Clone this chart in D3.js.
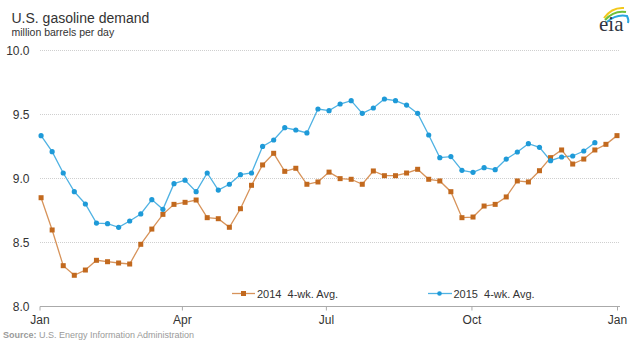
<!DOCTYPE html>
<html>
<head>
<meta charset="utf-8">
<script src="https://cdn.jsdelivr.net/npm/d3@7"></script>
<style>
  html, body { margin: 0; padding: 0; background: #fff; }
  svg { display: block; font-family: "Liberation Sans", Arial, sans-serif; }
</style>
</head>
<body>
<svg id="chart" width="640" height="344"></svg>
<script>
// ---- data ----
const firstWeek = "2014-01-02";
const series2014 = [8.846,8.594,8.315,8.240,8.281,8.357,8.346,8.336,8.328,8.482,
  8.601,8.716,8.794,8.810,8.828,8.690,8.682,8.615,8.760,8.943,
  9.102,9.193,9.052,9.076,8.951,8.969,9.046,8.995,8.990,8.951,
  9.055,9.018,9.018,9.039,9.068,8.990,8.977,8.893,8.690,8.695,
  8.781,8.794,8.852,8.977,8.969,9.057,9.159,9.219,9.109,9.148,
  9.219,9.263,9.331];
const series2015 = [9.331,9.206,9.039,8.893,8.797,8.648,8.643,8.615,8.664,8.719,
  8.831,8.755,8.956,8.983,8.893,9.039,8.906,8.951,9.026,9.039,
  9.247,9.297,9.393,9.375,9.352,9.539,9.526,9.578,9.604,9.505,
  9.547,9.617,9.604,9.570,9.505,9.336,9.159,9.167,9.060,9.044,
  9.081,9.065,9.148,9.203,9.268,9.240,9.135,9.164,9.172,9.211,9.276];
const yTicks = [8.0, 8.5, 9.0, 9.5, 10.0];
const xTickDates = ["2014-01-01","2014-04-01","2014-07-01","2014-10-01","2015-01-01"];
const xTickLabels = ["Jan","Apr","Jul","Oct","Jan"];
const legendLabels = ["2014  4-wk. Avg.", "2015  4-wk. Avg."];

// ---- setup ----
const svg = d3.select("#chart");
const parse = d3.utcParse("%Y-%m-%d");
const x = d3.scaleUtc().domain([parse("2014-01-01"), parse("2015-01-01")]).range([39.5, 617]);
const y = d3.scaleLinear().domain([8, 10]).range([306, 50]);
const weekDate = i => d3.utcDay.offset(parse(firstWeek), 7 * i);

const C14 = "#c2691e", C14L = "#d7935a";
const C15 = "#1e9ad8", C15L = "#4fb2e3";

// title
svg.append("text").attr("x", 11.5).attr("y", 23).attr("font-size", 14).attr("fill", "#333")
  .text("U.S. gasoline demand");
svg.append("text").attr("x", 11.5).attr("y", 36).attr("font-size", 10.5).attr("fill", "#333")
  .text("million barrels per day");

// gridlines
svg.append("g").selectAll("line").data(yTicks.filter(d => d > 8)).join("line")
  .attr("x1", 40).attr("x2", 620)
  .attr("y1", d => Math.round(y(d)) + 0.5).attr("y2", d => Math.round(y(d)) + 0.5)
  .attr("stroke", "#cfcfcf").attr("stroke-width", 1).attr("stroke-dasharray", "1,1");

// y labels
svg.append("g").selectAll("text").data(yTicks).join("text")
  .attr("x", 29.5).attr("y", d => y(d) + 4.5).attr("text-anchor", "end")
  .attr("font-size", 12).attr("fill", "#333").text(d => d.toFixed(1));

// x axis
const xAxis = d3.axisBottom(x).tickValues(xTickDates.map(parse))
  .tickFormat((d, i) => xTickLabels[i]).tickSize(4).tickSizeOuter(0);
const gx = svg.append("g").attr("transform", "translate(0,306.5)").call(xAxis);
gx.select(".domain").attr("d", "M40,0H620").attr("stroke", "#aaa");
gx.selectAll(".tick line").attr("stroke", "#aaa");
gx.selectAll(".tick text").attr("font-size", 12).attr("fill", "#333")
  .attr("font-family", "'Liberation Sans', Arial, sans-serif").attr("dy", "0.75em").attr("y", 8);

// lines
const line = d3.line().x((d, i) => x(weekDate(i))).y(d => y(d));
svg.append("path").datum(series2015).attr("d", line).attr("fill", "none")
  .attr("stroke", C15L).attr("stroke-width", 1.3);
svg.append("path").datum(series2014).attr("d", line).attr("fill", "none")
  .attr("stroke", C14L).attr("stroke-width", 1.3);

svg.append("g").selectAll("rect").data(series2014).join("rect")
  .attr("x", (d, i) => x(weekDate(i)) - 2.5).attr("y", d => y(d) - 2.5)
  .attr("width", 5).attr("height", 5).attr("fill", C14);
svg.append("g").selectAll("circle").data(series2015).join("circle")
  .attr("cx", (d, i) => x(weekDate(i))).attr("cy", d => y(d)).attr("r", 2.6).attr("fill", C15);

// legend
const lg = svg.append("g");
lg.append("line").attr("x1", 232).attr("x2", 255).attr("y1", 293.5).attr("y2", 293.5).attr("stroke", C14L).attr("stroke-width", 1.3);
lg.append("rect").attr("x", 241).attr("y", 291).attr("width", 5).attr("height", 5).attr("fill", C14);
lg.append("text").attr("x", 257).attr("y", 297.5).attr("font-size", 11).attr("fill", "#333")
  .style("white-space", "pre").text(legendLabels[0]);
lg.append("line").attr("x1", 428).attr("x2", 452).attr("y1", 293.5).attr("y2", 293.5).attr("stroke", C15L).attr("stroke-width", 1.3);
lg.append("circle").attr("cx", 439.5).attr("cy", 293.5).attr("r", 2.3).attr("fill", C15);
lg.append("text").attr("x", 453.5).attr("y", 297.5).attr("font-size", 11).attr("fill", "#333")
  .style("white-space", "pre").text(legendLabels[1]);

// source
const src = svg.append("text").attr("x", 3).attr("y", 338).attr("font-size", 9).attr("fill", "#9a9a9a");
src.append("tspan").attr("font-weight", "bold").text("Source:");
src.append("tspan").text(" U.S. Energy Information Administration");

// eia logo
const logo = svg.append("g").attr("transform", "translate(598,4)");
logo.append("path").attr("d", "M6,14 Q14,3 26,4").attr("fill", "none").attr("stroke", "#f2c81b").attr("stroke-width", 2);
logo.append("path").attr("d", "M7,16 Q16,6 28,8").attr("fill", "none").attr("stroke", "#6fbf3a").attr("stroke-width", 2);
logo.append("path").attr("d", "M9,18 Q18,10 29,12 Q31,16 30,19").attr("fill", "none").attr("stroke", "#2aa6df").attr("stroke-width", 2);
logo.append("text").attr("x", 1).attr("y", 27).attr("font-family", "'Liberation Serif', 'DejaVu Serif', serif")
  .attr("font-size", 21).attr("fill", "#2f3440").text("eia");
</script>
</body>
</html>
